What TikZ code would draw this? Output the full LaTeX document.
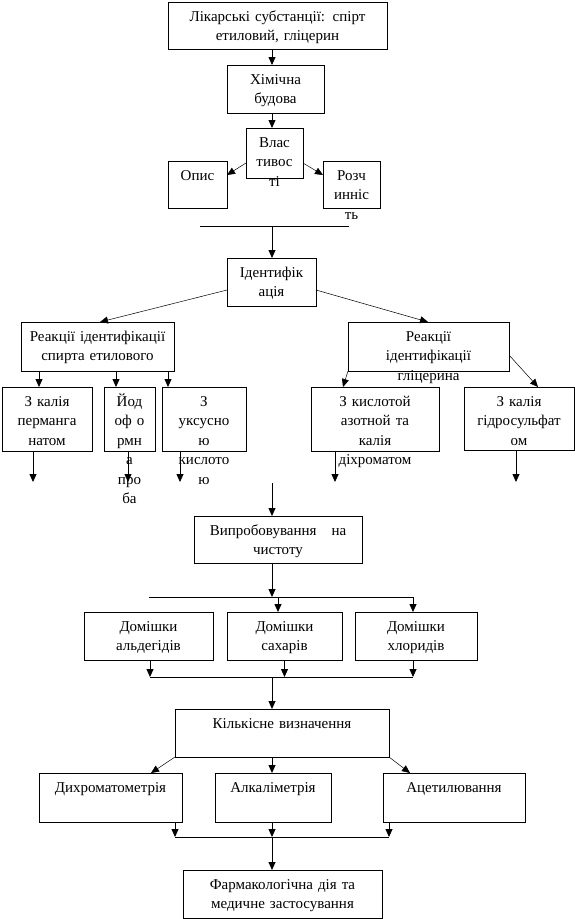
\documentclass[tikz,border=0pt]{standalone}
\usepackage{fontspec}
\setmainfont{Liberation Serif}
\usetikzlibrary{arrows.meta,calc}
\tikzset{
  bx/.style={draw, line width=0.8pt, inner sep=0pt, outer sep=0pt, anchor=north west},
  tx/.style={anchor=base, inner sep=0pt, align=center, font=\fontsize{15}{19.5}\selectfont},
  ln/.style={line width=0.8pt},
  arr/.style={line width=0.8pt, -{Triangle[length=8pt,width=7pt]}},
  darr/.style={line width=0.5pt, -{Triangle[length=8pt,width=7pt]}},
}
\newcommand{\bxat}[6]{% name, x1, y1, x2, y2, text
  \node[bx, minimum width={#4-#2}, minimum height={#5-#3}] (#1) at (#2,#3) {};
  \node[tx, text width={#4-#2}] (#1-t) at ([yshift=-19pt]#1.north) {#6};
}
\begin{document}
\begin{tikzpicture}[x=1pt,y=-1pt]
\useasboundingbox (0,0) rectangle (575,919);
% boxes
\bxat{top}{168}{2}{387}{49}{Лікарські субстанції: спірт\\етиловий, гліцерин}
\bxat{khim}{227}{65}{324}{113}{Хімічна\\будова}
\bxat{vlast}{246}{128}{303}{178}{Влас\\тивос\\ті}
\bxat{opys}{168}{161}{227}{208}{Опис}
\bxat{rozch}{323}{161}{380}{208}{Розч\\инніс\\ть}
\bxat{ident}{227}{258}{316}{306}{Ідентифік\\ація}
\bxat{rspirt}{21}{322}{174}{371}{Реакції ідентифікації\\спирта етилового}
\bxat{rglic}{348}{322}{509}{371}{Реакції\\ідентифікації\\гліцерина}
\bxat{kperm}{2}{387}{92}{451}{З калія\\перманга\\натом}
\bxat{jod}{104}{387}{155}{451}{Йод\\оф о\\рмн\\а\\про\\ба}
\bxat{uksus}{162}{387}{246}{451}{З\\уксусно\\ю\\кислото\\ю}
\bxat{kazot}{311}{387}{439}{451}{З кислотой\\азотной та\\калія\\діхроматом}
\bxat{khydro}{464}{387}{574}{450}{З калія\\гідросульфат\\ом}
\bxat{vyprob}{194}{516}{362}{563}{Випробовування\quad на\\чистоту}
\bxat{dom1}{84}{612}{213}{660}{Домішки\\альдегідів}
\bxat{dom2}{227}{612}{342}{660}{Домішки\\сахарів}
\bxat{dom3}{355}{612}{477}{660}{Домішки\\хлоридів}
\bxat{kilk}{175}{709}{389}{757}{Кількісне визначення}
\bxat{dyhr}{39}{773}{182}{822}{Дихроматометрія}
\bxat{alk}{215}{773}{331}{822}{Алкаліметрія}
\bxat{acet}{383}{773}{525}{822}{Ацетилювання}
\bxat{farm}{183}{870}{382}{918}{Фармакологічна дія та\\медичне застосування}
% coordinates
\coordinate (l1) at (200,226);
\coordinate (l2) at (349,226);
\coordinate (e1) at (33,482);
\coordinate (e2) at (128,482);
\coordinate (e3) at (180,482);
\coordinate (e4) at (335,482);
\coordinate (e5) at (516,482);
\coordinate (m1) at (272,483);
\coordinate (h1) at (149,597);
\coordinate (h2) at (413,597);
\coordinate (h3) at (278,597);
\coordinate (g1) at (150,677);
\coordinate (g2) at (413,677);
\coordinate (f1) at (175,837);
\coordinate (f2) at (389,837);
% connectors
\draw[arr] ([xshift=104pt]top.south west) -- ([xshift=45pt]khim.north west);
\draw[arr] ([xshift=45pt]khim.south west) -- ([xshift=26pt]vlast.north west);
\draw[darr] ([yshift=-35pt]vlast.north west) -- ([yshift=-14pt]opys.north east);
\draw[darr] ([yshift=-35pt]vlast.north east) -- ([yshift=-14pt]rozch.north west);
\draw[ln] (l1) -- (l2);
\draw[arr] ([xshift=45pt]ident.north west |- l1) -- ([xshift=45pt]ident.north west);
\draw[darr] ([yshift=-32pt]ident.north west) -- ([xshift=79pt]rspirt.north west);
\draw[darr] ([yshift=-32pt]ident.north east) -- ([xshift=80pt]rglic.north west);
\draw[arr] ([xshift=18pt]rspirt.south west) -- ([xshift=37pt]kperm.north west);
\draw[arr] ([xshift=95pt]rspirt.south west) -- ([xshift=12pt]jod.north west);
\draw[arr] ([xshift=147pt]rspirt.south west) -- ([xshift=6pt]uksus.north west);
\draw[darr] (rglic.south west) -- ([xshift=32pt]kazot.north west);
\draw[darr] ([yshift=-33pt]rglic.north east) -- ([xshift=74pt]khydro.north west);
\draw[arr] (kperm.south -| e1) -- (e1);
\draw[arr] (jod.south -| e2) -- (e2);
\draw[arr] (uksus.south -| e3) -- (e3);
\draw[arr] (kazot.south -| e4) -- (e4);
\draw[arr] (khydro.south -| e5) -- (e5);
\draw[arr] (m1) -- (vyprob.north -| m1);
\draw[arr] (vyprob.south -| m1) -- (h1 -| m1);
\draw[ln] (h1) -- (h2);
\draw[arr] (h3) -- (dom2.north -| h3);
\draw[arr] (h2) -- (dom3.north -| h2);
\draw[arr] (dom1.south -| g1) -- (g1);
\draw[arr] (dom2.south) -- (dom2.south |- g1);
\draw[arr] (dom3.south -| g2) -- (g2);
\draw[ln] (g1) -- (g2);
\draw[arr] (g1 -| m1) -- (kilk.north -| m1);
\draw[darr] (kilk.south west) -- ([xshift=112pt]dyhr.north west);
\draw[arr] (kilk.south -| m1) -- (alk.north -| m1);
\draw[darr] (kilk.south east) -- ([xshift=27pt]acet.north west);
\draw[arr] (dyhr.south -| f1) -- (f1);
\draw[arr] (alk.south -| m1) -- (f1 -| m1);
\draw[arr] (acet.south -| f2) -- (f2);
\draw[ln] (f1) -- (f2);
\draw[arr] (f1 -| m1) -- (farm.north -| m1);
\end{tikzpicture}
\end{document}
